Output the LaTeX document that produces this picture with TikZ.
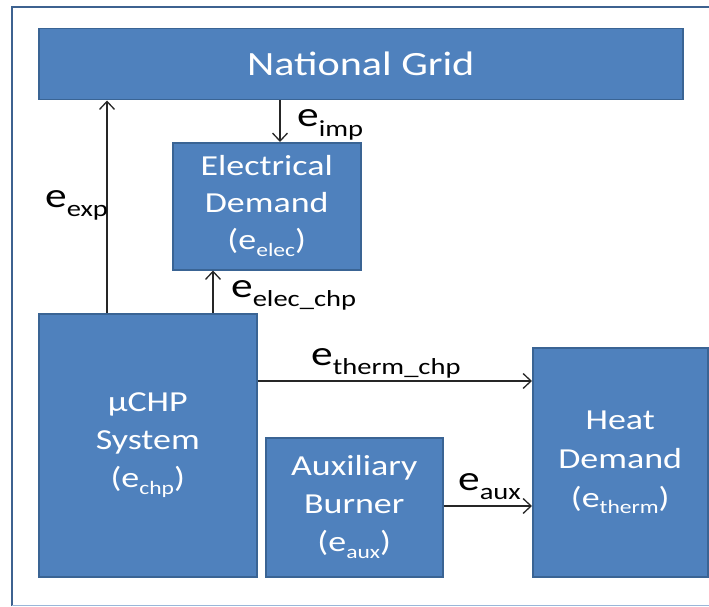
\documentclass[tikz,border=0pt]{standalone}
\usepackage{fontspec}
\setmainfont{Carlito}[FakeStretch=1.24]
\usetikzlibrary{arrows.meta}
\definecolor{boxfill}{HTML}{4F81BD}
\definecolor{boxline}{HTML}{3A6494}
\definecolor{frameline}{HTML}{3D6290}
\definecolor{framelight}{HTML}{9AB6D8}
\newcommand{\bsub}[2]{#1\raisebox{-0.24em}{\fontsize{19}{19}\selectfont #2}}
\newcommand{\lsub}[2]{#1\raisebox{-0.26em}{\fontsize{23}{23}\selectfont #2}}
\begin{document}
\begin{tikzpicture}[x=1pt,y=-1pt,
  blk/.style={draw=boxline, line width=1.5pt, fill=boxfill, text=white, anchor=north west,
    align=center, inner sep=0pt, font=\fontsize{29}{38}\selectfont},
  arr/.style={-{Straight Barb[length=8pt,width=15pt,line width=1.3pt]}, line width=1.3pt, draw=black!85},
  lab/.style={font=\fontsize{35}{35}\selectfont, inner sep=0pt, text=black, anchor=base west}
]
\useasboundingbox (0,0) rectangle (709,607);
% outer frame
\draw[frameline, line width=2.5pt] (709,7) -- (12,7) -- (12,606);
\draw[framelight, line width=1.5pt] (12,605.5) -- (709,605.5);
% boxes
\node[blk, minimum width=644pt, minimum height=71pt, font=\fontsize{34}{34}\selectfont] (ng) at (38,28) {National Grid};
\node[blk, minimum width=188pt, minimum height=127pt, font=\fontsize{29}{37}\selectfont] (ed) at (172,142) {Electrical\\Demand\\(\bsub{e}{elec})};
\node[blk, minimum width=218pt, minimum height=263pt] (chp) at (38,313) {µCHP\\System\\(\bsub{e}{chp})};
\node[blk, minimum width=177pt, minimum height=139pt] (ab) at (265,437) {Auxiliary\\Burner\\(\bsub{e}{aux})};
\node[blk, minimum width=175pt, minimum height=229pt, font=\fontsize{29}{39}\selectfont] (hd) at (532,347) {Heat\\Demand\\(\bsub{e}{therm})};
% connector x / y positions
\coordinate (xexp) at (107,0);
\coordinate (ximp) at (280,0);
\coordinate (xelc) at (213,0);
\coordinate (ythm) at (0,381);
\coordinate (yaux) at (0,506);
% connectors
\draw[arr] (chp.north -| xexp) -- (ng.south -| xexp);
\draw[arr] (ng.south -| ximp) -- (ed.north -| ximp);
\draw[arr] (chp.north -| xelc) -- (ed.south -| xelc);
\draw[arr] (chp.east |- ythm) -- (hd.west |- ythm);
\draw[arr] (ab.east |- yaux) -- (hd.west |- yaux);
% labels
\node[lab] (limp) at (297,127) {\lsub{e}{imp}};
\node[lab] (lexp) at (45,207) {\lsub{e}{exp}};
\node[lab] (lelc) at (231,297) {\lsub{e}{elec\_chp}};
\node[lab] (lthm) at (311,365) {\lsub{e}{therm\_chp}};
\node[lab] (laux) at (458,490) {\lsub{e}{aux}};
\end{tikzpicture}
\end{document}
